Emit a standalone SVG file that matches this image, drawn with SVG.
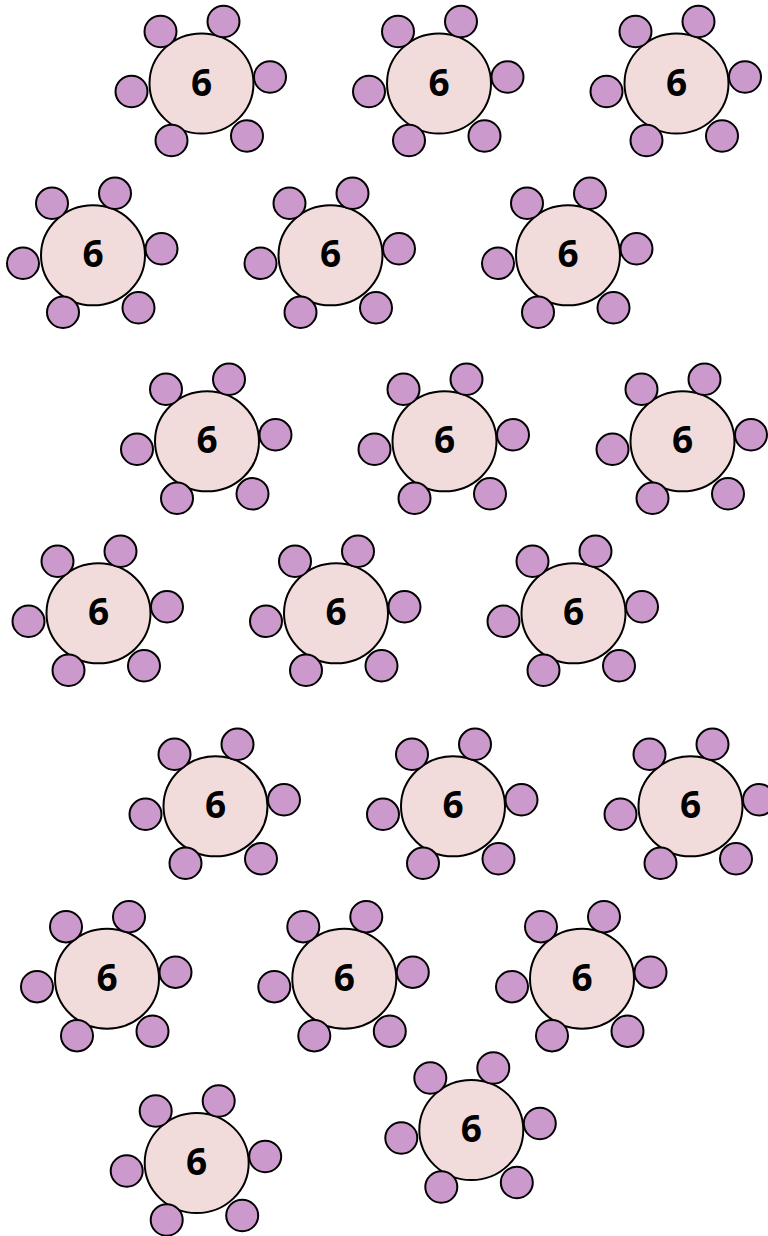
<svg xmlns="http://www.w3.org/2000/svg" xmlns:xlink="http://www.w3.org/1999/xlink" width="768" height="1236" viewBox="0 0 768 1236">
<style>
.tbl{fill:#F2DCDB;stroke:#000;stroke-width:2}
.ch{fill:#CC99CC;stroke:#000;stroke-width:2}
.lbl{font-family:"Open Sans","Liberation Sans",sans-serif;font-weight:bold;font-size:37px;fill:#000;text-anchor:middle}
</style>
<defs>
<g id="chairs">
<ellipse class="ch" cx="-41" cy="-52" rx="16" ry="15.7"/>
<ellipse class="ch" cx="22" cy="-62" rx="16" ry="15.7"/>
<ellipse class="ch" cx="-70" cy="8" rx="16" ry="15.7"/>
<ellipse class="ch" cx="68.5" cy="-6.5" rx="16" ry="15.7"/>
<ellipse class="ch" cx="-30" cy="57" rx="16" ry="15.7"/>
<ellipse class="ch" cx="45.5" cy="52.5" rx="16" ry="15.7"/>
</g>
</defs>
<g id="connectors"/>
<g id="table-1" transform="translate(201.5,83.5)"><ellipse class="tbl" rx="52" ry="50"/><use xlink:href="#chairs"/><text class="lbl" x="0" y="12">6</text></g>
<g id="table-2" transform="translate(439,83.5)"><ellipse class="tbl" rx="52" ry="50"/><use xlink:href="#chairs"/><text class="lbl" x="0" y="12">6</text></g>
<g id="table-3" transform="translate(676.5,83.5)"><ellipse class="tbl" rx="52" ry="50"/><use xlink:href="#chairs"/><text class="lbl" x="0" y="12">6</text></g>
<g id="table-4" transform="translate(93,255.3)"><ellipse class="tbl" rx="52" ry="50"/><use xlink:href="#chairs"/><text class="lbl" x="0" y="12">6</text></g>
<g id="table-5" transform="translate(330.5,255.3)"><ellipse class="tbl" rx="52" ry="50"/><use xlink:href="#chairs"/><text class="lbl" x="0" y="12">6</text></g>
<g id="table-6" transform="translate(568,255.3)"><ellipse class="tbl" rx="52" ry="50"/><use xlink:href="#chairs"/><text class="lbl" x="0" y="12">6</text></g>
<g id="table-7" transform="translate(207,441.3)"><ellipse class="tbl" rx="52" ry="50"/><use xlink:href="#chairs"/><text class="lbl" x="0" y="12">6</text></g>
<g id="table-8" transform="translate(444.5,441.3)"><ellipse class="tbl" rx="52" ry="50"/><use xlink:href="#chairs"/><text class="lbl" x="0" y="12">6</text></g>
<g id="table-9" transform="translate(682.5,441.3)"><ellipse class="tbl" rx="52" ry="50"/><use xlink:href="#chairs"/><text class="lbl" x="0" y="12">6</text></g>
<g id="table-10" transform="translate(98.5,613.3)"><ellipse class="tbl" rx="52" ry="50"/><use xlink:href="#chairs"/><text class="lbl" x="0" y="12">6</text></g>
<g id="table-11" transform="translate(336,613.3)"><ellipse class="tbl" rx="52" ry="50"/><use xlink:href="#chairs"/><text class="lbl" x="0" y="12">6</text></g>
<g id="table-12" transform="translate(573.5,613.3)"><ellipse class="tbl" rx="52" ry="50"/><use xlink:href="#chairs"/><text class="lbl" x="0" y="12">6</text></g>
<g id="table-13" transform="translate(215.5,806.3)"><ellipse class="tbl" rx="52" ry="50"/><use xlink:href="#chairs"/><text class="lbl" x="0" y="12">6</text></g>
<g id="table-14" transform="translate(453,806.3)"><ellipse class="tbl" rx="52" ry="50"/><use xlink:href="#chairs"/><text class="lbl" x="0" y="12">6</text></g>
<g id="table-15" transform="translate(690.5,806.3)"><ellipse class="tbl" rx="52" ry="50"/><use xlink:href="#chairs"/><text class="lbl" x="0" y="12">6</text></g>
<g id="table-16" transform="translate(107,978.7)"><ellipse class="tbl" rx="52" ry="50"/><use xlink:href="#chairs"/><text class="lbl" x="0" y="12">6</text></g>
<g id="table-17" transform="translate(344.3,978.7)"><ellipse class="tbl" rx="52" ry="50"/><use xlink:href="#chairs"/><text class="lbl" x="0" y="12">6</text></g>
<g id="table-18" transform="translate(582,978.7)"><ellipse class="tbl" rx="52" ry="50"/><use xlink:href="#chairs"/><text class="lbl" x="0" y="12">6</text></g>
<g id="table-19" transform="translate(196.7,1163)"><ellipse class="tbl" rx="52" ry="50"/><use xlink:href="#chairs"/><text class="lbl" x="0" y="12">6</text></g>
<g id="table-20" transform="translate(471.3,1130)"><ellipse class="tbl" rx="52" ry="50"/><use xlink:href="#chairs"/><text class="lbl" x="0" y="12">6</text></g>
</svg>
